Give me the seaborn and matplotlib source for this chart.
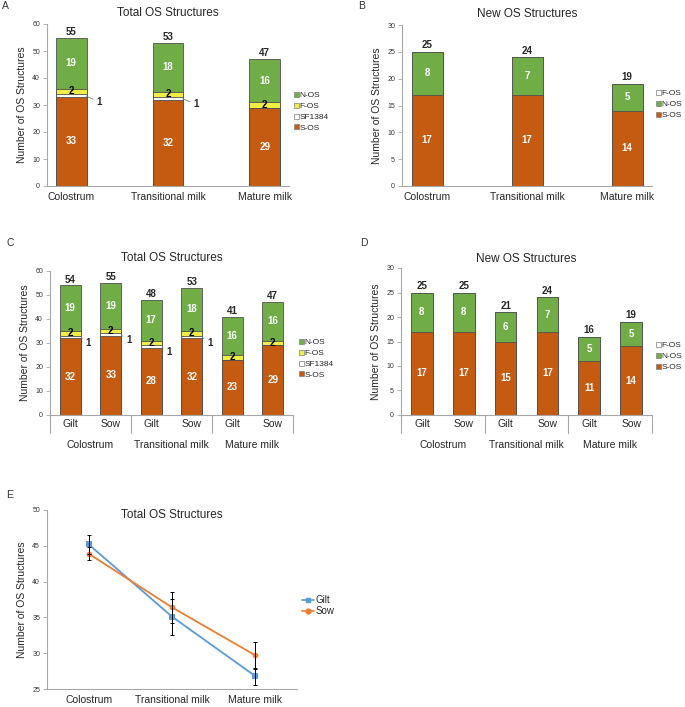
import numpy as np
import pandas as pd
import seaborn as sns
import matplotlib.pyplot as plt
from matplotlib.patches import Patch
from matplotlib.lines import Line2D

# categorias
stages = ["Colostrum", "Transitional milk", "Mature milk"]
animals = ["Gilt", "Sow", "Gilt", "Sow", "Gilt", "Sow"]

# painel A - total por estagio
a_s_os = [33, 32, 29]
a_sf1384 = [1, 1, 0]
a_f_os = [2, 2, 2]
a_n_os = [19, 18, 16]

# painel B - novas estruturas por estagio
b_s_os = [17, 17, 14]
b_n_os = [8, 7, 5]
b_f_os = [0, 0, 0]

# painel C - total por estagio e animal
c_s_os = [32, 33, 28, 32, 23, 29]
c_sf1384 = [1, 1, 1, 1, 0, 0]
c_f_os = [2, 2, 2, 2, 2, 2]
c_n_os = [19, 19, 17, 18, 16, 16]

# painel D - novas estruturas por estagio e animal
d_s_os = [17, 17, 15, 17, 11, 14]
d_n_os = [8, 8, 6, 7, 5, 5]
d_f_os = [0, 0, 0, 0, 0, 0]

# painel E - media e erro
gilt_mean = [45.2, 35.1, 26.8]
gilt_err = [1.3, 2.5, 1.2]
sow_mean = [43.9, 36.4, 29.7]
sow_err = [0.9, 2.2, 1.9]

S_COL = "#C55A11"
N_COL = "#70AD47"
F_COL = "#EEEE45"
SF_COL = "#FFFFFF"
EDGE = "#505050"
AXC = "#A6A6A6"

sns.set_theme(style="white")
plt.rcParams["font.family"] = ["Liberation Sans", "DejaVu Sans"]

W, H = 685, 707
fig = plt.figure(figsize=(W / 100, H / 100), dpi=100)


def make_ax(x0, x1, ytop, ybot):
    return fig.add_axes([x0 / W, 1 - ybot / H, (x1 - x0) / W, (ybot - ytop) / H])


def style_ax(ax, ymax, ystep, ymin=0):
    ax.set_ylim(ymin, ymax)
    ax.set_yticks(np.arange(ymin, ymax + 0.1, ystep))
    for s in ["top", "right"]:
        ax.spines[s].set_visible(False)
    for s in ["left", "bottom"]:
        ax.spines[s].set_color(AXC)
        ax.spines[s].set_linewidth(0.8)
    ax.tick_params(axis="y", length=3, width=0.6, color=AXC, labelsize=5, pad=2, colors="#333333", left=True)
    ax.tick_params(axis="x", length=0, labelsize=7.5, pad=4)
    ax.set_ylabel("Number of OS Structures", fontsize=7.5, labelpad=4)
    ax.set_xlabel("")


def stacked(ax, layers, width, one_dx):
    # layers: (nome, valores, cor, tipo de rotulo) de baixo para cima
    n = len(layers[0][1])
    cum = np.cumsum([np.array(l[1]) for l in layers], axis=0)
    for k in range(len(layers) - 1, -1, -1):
        df = pd.DataFrame({"pos": range(n), "val": cum[k]})
        sns.barplot(data=df, x="pos", y="val", color=layers[k][2], saturation=1,
                    width=width, edgecolor=EDGE, linewidth=0.6, ax=ax)
    for k, (name, vals, col, kind) in enumerate(layers):
        for i, v in enumerate(vals):
            if v == 0:
                continue
            mid = cum[k][i] - v / 2
            if kind == "white":
                ax.text(i, mid, str(v), ha="center", va="center", color="white",
                        fontsize=7, fontweight="bold")
            elif kind == "black":
                ax.text(i, mid, str(v), ha="center", va="center", color="black",
                        fontsize=7, fontweight="bold")
            elif kind == "lead":
                ax.annotate(str(v), xy=(i + width / 2 - 0.02, mid),
                            xytext=(i + width / 2 + one_dx, mid - 2.3),
                            fontsize=7, fontweight="bold", ha="left", va="center",
                            arrowprops=dict(arrowstyle="-", color="#808080", lw=0.6,
                                            shrinkA=0, shrinkB=1))
    for i in range(n):
        ax.text(i, cum[-1][i] + 0.3, str(int(cum[-1][i])), ha="center", va="bottom",
                fontsize=7, fontweight="bold")


def bar_legend(items, x, y):
    handles = [Patch(facecolor=c, edgecolor="#7f7f7f", linewidth=0.5) for _, c in items]
    fig.legend(handles, [t for t, _ in items], loc="upper left",
               bbox_to_anchor=(x / W, 1 - y / H), frameon=False, fontsize=6,
               handlelength=0.55, handleheight=0.55, handletextpad=0.15,
               labelspacing=0.4, borderpad=0, borderaxespad=0)


def two_level(ax, fsize_off, grp_off):
    ax.set_xticks(range(6))
    ax.set_xticklabels(animals)
    ax.tick_params(axis="x", pad=3)
    for b in [-0.5, 1.5, 3.5, 5.5]:
        ax.plot([b, b], [0, -fsize_off], transform=ax.get_xaxis_transform(),
                color=AXC, lw=0.8, clip_on=False)
    for j, st in enumerate(stages):
        ax.text(2 * j + 0.5, -grp_off, st, transform=ax.get_xaxis_transform(),
                ha="center", va="center", fontsize=7.5)


def panel_letter(t, x, y):
    fig.text(x / W, 1 - y / H, t, fontsize=7.5, ha="left", va="center", color="#333333")


# ---- A ----
axA = make_ax(47, 289, 24, 186)
stacked(axA, [("S-OS", a_s_os, S_COL, "white"), ("SF1384", a_sf1384, SF_COL, "lead"),
              ("F-OS", a_f_os, F_COL, "black"), ("N-OS", a_n_os, N_COL, "white")], 0.32, 0.1)
style_ax(axA, 60, 10)
axA.set_xlim(-0.25, 2.25)
axA.set_xticks(range(3))
axA.set_xticklabels(stages)
axA.set_title("Total OS Structures", fontsize=8.5, pad=6)
bar_legend([("N-OS", N_COL), ("F-OS", F_COL), ("SF1384", SF_COL), ("S-OS", S_COL)], 294, 92)
panel_letter("A", 2, 6)

# ---- B ----
axB = make_ax(402, 652, 25, 186)
stacked(axB, [("S-OS", b_s_os, S_COL, "white"), ("N-OS", b_n_os, N_COL, "white"),
              ("F-OS", b_f_os, SF_COL, "none")], 0.31, 0.1)
style_ax(axB, 30, 5)
axB.set_xlim(-0.25, 2.25)
axB.set_xticks(range(3))
axB.set_xticklabels(stages)
axB.set_title("New OS Structures", fontsize=8.5, pad=6)
bar_legend([("F-OS", SF_COL), ("N-OS", N_COL), ("S-OS", S_COL)], 656, 90)
panel_letter("B", 358, 6)

# ---- C ----
axC = make_ax(50, 293, 271, 415)
stacked(axC, [("S-OS", c_s_os, S_COL, "white"), ("SF1384", c_sf1384, SF_COL, "lead"),
              ("F-OS", c_f_os, F_COL, "black"), ("N-OS", c_n_os, N_COL, "white")], 0.52, 0.12)
style_ax(axC, 60, 10)
axC.set_xlim(-0.5, 5.5)
two_level(axC, 0.125, 0.21)
axC.set_title("Total OS Structures", fontsize=8.5, pad=7)
bar_legend([("N-OS", N_COL), ("F-OS", F_COL), ("SF1384", SF_COL), ("S-OS", S_COL)], 299, 339)
panel_letter("C", 6, 243)

# ---- D ----
axD = make_ax(401, 652, 268, 415)
stacked(axD, [("S-OS", d_s_os, S_COL, "white"), ("N-OS", d_n_os, N_COL, "white"),
              ("F-OS", d_f_os, SF_COL, "none")], 0.52, 0.1)
style_ax(axD, 30, 5)
axD.set_xlim(-0.5, 5.5)
two_level(axD, 0.122, 0.205)
axD.set_title("New OS Structures", fontsize=8.5, pad=4)
bar_legend([("F-OS", SF_COL), ("N-OS", N_COL), ("S-OS", S_COL)], 656, 342)
panel_letter("D", 360, 243)

# ---- E ----
axE = make_ax(47, 297, 510, 689)
dfE = pd.DataFrame({
    "pos": [0, 1, 2, 0, 1, 2],
    "mean": gilt_mean + sow_mean,
    "err": gilt_err + sow_err,
    "group": ["Gilt"] * 3 + ["Sow"] * 3,
})
pal = {"Gilt": "#5B9BD5", "Sow": "#ED7D31"}
sns.lineplot(data=dfE, x="pos", y="mean", hue="group", style="group",
             markers={"Gilt": "s", "Sow": "o"}, dashes=False, palette=pal,
             markersize=4, markeredgewidth=0, linewidth=1.3, legend=False, ax=axE)
for g in ["Gilt", "Sow"]:
    sub = dfE[dfE["group"] == g]
    axE.errorbar(sub["pos"], sub["mean"], yerr=sub["err"], fmt="none",
                 ecolor="black", elinewidth=0.7, capsize=1.5, capthick=0.7)
style_ax(axE, 50, 5, ymin=25)
axE.set_xlim(-0.5, 2.5)
axE.set_xticks(range(3))
axE.set_xticklabels(stages)
axE.set_title("Total OS Structures", fontsize=8.5, y=0.91)
axE.tick_params(axis="x", labelsize=7.5, pad=4)
hE = [Line2D([], [], color=pal["Gilt"], marker="s", markersize=3.5, lw=1.2),
      Line2D([], [], color=pal["Sow"], marker="o", markersize=3.5, lw=1.2)]
fig.legend(hE, ["Gilt", "Sow"], loc="upper left", bbox_to_anchor=(302 / W, 1 - 595 / H),
           frameon=False, fontsize=7, handlelength=1.2, handletextpad=0.2,
           labelspacing=0.1, borderpad=0, borderaxespad=0)
panel_letter("E", 6, 495)

fig.savefig("out.png", dpi=100, facecolor="white")
